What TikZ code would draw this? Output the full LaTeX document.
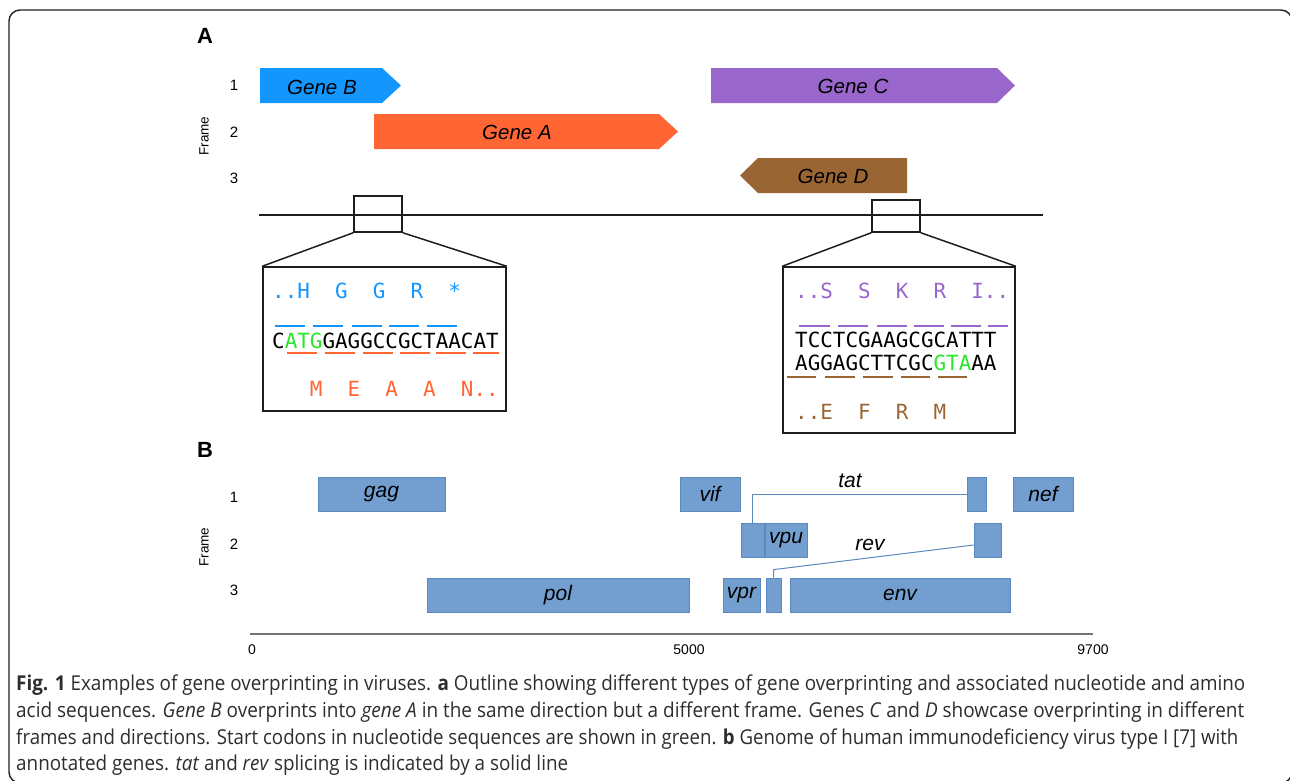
\documentclass[tikz,border=0pt]{standalone}
\usepackage{fontspec}
\usepackage{graphicx}
\setmainfont{Liberation Sans}
\newfontfamily\seqfont{DejaVu Sans Mono}
\newfontfamily\capfont{Open Sans}
\newcommand\capfmt{\fontsize{20.5}{24}\selectfont\capfont}
\newsavebox\cboxA
\definecolor{gB}{RGB}{20,150,255}
\definecolor{gA}{RGB}{255,102,51}
\definecolor{gC}{RGB}{153,102,204}
\definecolor{gD}{RGB}{153,102,51}
\definecolor{startc}{RGB}{40,230,40}
\definecolor{hiv}{RGB}{114,159,207}
\definecolor{hivdraw}{RGB}{92,136,192}
\definecolor{captxt}{RGB}{45,45,45}
\definecolor{frm}{RGB}{30,30,30}
\begin{document}
\sbox\cboxA{\capfmt\textbf{Fig. 1} Examples of gene overprinting in viruses. \textbf{a} Outline showing different types of gene overprinting and associated nucleotide and amino}%
\pgfmathsetmacro\capf{1229/\the\wd\cboxA}%
\begin{tikzpicture}[x=1pt,y=-1pt,
  genelbl/.style={inner sep=0pt,font=\fontsize{20.5}{24}\selectfont\itshape},
  framenum/.style={inner sep=0pt,font=\fontsize{15}{17}\selectfont},
  framelbl/.style={inner sep=0pt,rotate=90,font=\fontsize{13.5}{16}\selectfont},
  panel/.style={inner sep=0pt,font=\fontsize{22}{24}\selectfont\bfseries},
  zbox/.style={draw=frm,line width=1.5pt,inner sep=0pt},
  seq/.style={anchor=base west,inner sep=0pt,font=\fontsize{20.9}{24}\selectfont\seqfont},
  codon/.style={line width=1.6pt},
  hivbox/.style={draw=hivdraw,fill=hiv,line width=0.8pt,inner sep=0pt,minimum height=34pt,font=\fontsize{21}{24}\selectfont\itshape},
  splice/.style={draw=hivdraw,line width=1pt},
  splbl/.style={inner sep=0pt,font=\fontsize{21}{24}\selectfont\itshape},
  axlbl/.style={inner sep=0pt,font=\fontsize{14}{16}\selectfont},
  captext/.style={anchor=base west,inner sep=0pt,text=captxt,font=\capfmt}]
\useasboundingbox (0,0) rectangle (1290,780);
% outer frame
\draw[frm,line width=1.4pt,rounded corners=11pt] (9,10) rectangle (1292,783);

% ---------- Panel A ----------
\node[panel] (pA) at (205,36) {A};
\node[framenum] (fa1) at (234,85) {1};
\node[framenum] (fa2) at (234,132) {2};
\node[framenum] (fa3) at (234,178) {3};
\node[framelbl] (faL) at (204,136) {Frame};

\fill[gB] (260,68) -- (382,68) -- (401,85.5) -- (382,103) -- (260,103) -- cycle;
\node[genelbl] (lgB) at (322,87) {Gene B};
\fill[gA] (374,114) -- (659,114) -- (678,131.5) -- (659,149) -- (374,149) -- cycle;
\node[genelbl] (lgA) at (517,132) {Gene A};
\fill[gC] (711,68) -- (997,68) -- (1015,85.5) -- (997,103) -- (711,103) -- cycle;
\node[genelbl] (lgC) at (853,86) {Gene C};
\fill[gD] (907,158) -- (758,158) -- (740,175.5) -- (758,193) -- (907,193) -- cycle;
\node[genelbl] (lgD) at (833,176) {Gene D};

\coordinate (g0) at (259,215);
\coordinate (g1) at (1043,215);
\draw[frm,line width=1.5pt] (g0) -- (g1);

\node[zbox,minimum width=48pt,minimum height=36pt] (s1) at (378,214) {};
\node[zbox,minimum width=243pt,minimum height=144pt] (b1) at (384.5,339) {};
\draw[frm,line width=1.5pt] (s1.south west) -- (b1.north west);
\draw[frm,line width=1.5pt] (s1.south east) -- (b1.north east);

\node[zbox,minimum width=48pt,minimum height=32pt] (s2) at (896,216) {};
\node[zbox,minimum width=232pt,minimum height=166pt] (b2) at (899,350) {};
\draw[frm,line width=1.5pt] (s2.south west) -- (b2.north west);
\draw[frm,line width=1.5pt] (s2.south east) -- (b2.north east);

% left sequences
\node[seq,text=gB] (aaB) at (272,298) {..H~~G~~G~~R~~*};
\node[seq] (seqL) at (272,348) {C\textcolor{startc}{ATG}GAGGCCGCTAACAT};
\node[seq,text=gA] (aaA) at (272,396) {\hphantom{MMM}M~~E~~A~~A~~N..};
\foreach \a/\b in {275/305,313/343,352/382,389/419,427/457}
  \draw[codon,gB] (\a,326) -- (\b,326);
\foreach \a/\b in {287/317,325/355,363/393,400/430,436/466,473/499}
  \draw[codon,gA] (\a,353) -- (\b,353);

% right sequences
\node[seq,text=gC] (aaC) at (795,298) {..S~~S~~K~~R~~I..};
\node[seq] (seqR1) at (795,347) {TCCTCGAAGCGCATTT};
\node[seq] (seqR2) at (795,370) {AGGAGCTTCGC\textcolor{startc}{GTA}AA};
\node[seq,text=gD] (aaD) at (795,419) {..E~~F~~R~~M};
\foreach \a/\b in {799/830,838/868,877/907,914/944,951/981,988/1008}
  \draw[codon,gC] (\a,326) -- (\b,326);
\foreach \a/\b in {787/816,825/855,863/893,901/930,938/967}
  \draw[codon,gD] (\a,377) -- (\b,377);

% ---------- Panel B ----------
\node[panel] (pB) at (205,450) {B};
\node[framenum] (fb1) at (234,497) {1};
\node[framenum] (fb2) at (234,544) {2};
\node[framenum] (fb3) at (234,590) {3};
\node[framelbl] (fbL) at (204,547) {Frame};

\node[hivbox,minimum width=127pt] (gag) at (381.5,494) {gag};
\node[hivbox,minimum width=262pt] (pol) at (558,595) {pol};
\node[hivbox,minimum width=60pt] (vif) at (710,494) {vif};
\node[hivbox,minimum width=23pt] (tatA) at (752.5,540) {};
\node[hivbox,minimum width=42pt] (vpu) at (786,540) {vpu};
\node[hivbox,minimum width=37pt] (vpr) at (741.5,595) {vpr};
\node[hivbox,minimum width=15pt] (revA) at (773.5,595) {};
\node[hivbox,minimum width=220pt] (env) at (900,595) {env};
\node[hivbox,minimum width=19pt] (tatB) at (976.5,494) {};
\node[hivbox,minimum width=60pt] (nef) at (1043,494) {nef};
\node[hivbox,minimum width=27pt] (revB) at (987.5,540) {};

\draw[splice] (tatA.north) |- (tatB.west);
\draw[splice] (revA.north) -- ++(0,-8) -- ([yshift=-5pt]revB.west);
\node[splbl] (tatl) at (850,481) {tat};
\node[splbl] (revl) at (870,545) {rev};

\coordinate (ax0) at (250,634);
\coordinate (ax1) at (1093,634);
\draw[black!55,line width=1.3pt] (ax0) -- (ax1);
\node[axlbl] (x0) at (252,650) {0};
\node[axlbl] (x1) at (689,650) {5000};
\node[axlbl] (x2) at (1093,650) {9700};

% ---------- Caption ----------
\node[captext] (c1) at (16,690) {\resizebox{1229pt}{\height}{\textbf{Fig. 1} Examples of gene overprinting in viruses. \textbf{a} Outline showing different types of gene overprinting and associated nucleotide and amino}};
\node[captext] (c2) at (16,717) {\resizebox{1228pt}{\height}{acid sequences. \textit{Gene B} overprints into \textit{gene A} in the same direction but a different frame. Genes \textit{C} and \textit{D} showcase overprinting in different}};
\node[captext] (c3) at (16,744) {\resizebox{1222pt}{\height}{frames and directions. Start codons in nucleotide sequences are shown in green. \textbf{b} Genome of human immunodeficiency virus type I [7] with}};
\node[captext] (c4) at (16,770) {\scalebox{\capf}[1]{annotated genes. \textit{tat} and \textit{rev} splicing is indicated by a solid line}};
\end{tikzpicture}
\end{document}
